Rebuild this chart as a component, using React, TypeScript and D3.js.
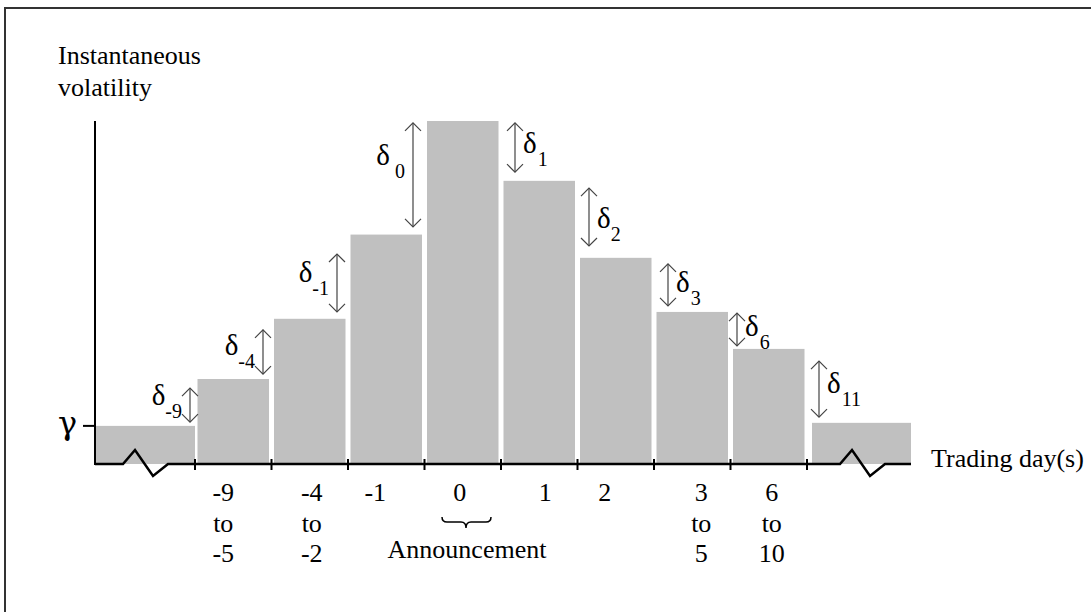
import React, { useEffect, useRef } from "react";
import * as d3 from "d3";

// bar heights, in units of the base level (gamma = 1)
const categories = ["pre", "-9 to -5", "-4 to -2", "-1", "0", "1", "2", "3 to 5", "6 to 10", "post"];
const volatility = [1.0, 2.23, 3.81, 6.02, 9.0, 7.43, 5.41, 3.99, 3.02, 1.08];
const gammaLevel = 1.0;

// x tick labels under the middle bars (one entry per line)
const tickLabels = [
  ["-9", "to", "-5"],
  ["-4", "to", "-2"],
  ["-1"],
  ["0"],
  ["1"],
  ["2"],
  ["3", "to", "5"],
  ["6", "to", "10"],
];

// delta arrows: subscript, start and end level
const deltaNames = ["-9", "-4", "-1", "0", "1", "2", "3", "6", "11"];
const deltaFrom = [1.99, 3.52, 5.51, 8.95, 8.95, 7.24, 5.25, 3.96, 2.7];
const deltaTo = [1.1, 2.36, 3.99, 6.22, 7.66, 5.72, 4.15, 3.1, 1.23];

// hand placement nudges from the original drawing
const labelDx = [-10, 2, -11, -3, 6, -11, 9, 3];
const arrowDx = [-5, -8.5, -11, -11.5, 14, 11.5, 14, 6.5, 12];
const deltaDy = [0, 3, -1, -10, 6, 11, 7, 7, 4];
const subDx = [0, 0, 0, 5, 1, 0, 1, 1, 1];

const FONT = '"Liberation Serif", "Times New Roman", Times, serif';

export default function App() {
  const ref = useRef<SVGSVGElement>(null);

  useEffect(() => {
    const width = 1091;
    const height = 612;
    const axisX = 95;
    const endX = 911;
    const baseY = 464;

    const svg = d3.select(ref.current).attr("width", width).attr("height", height);
    svg.selectAll("*").remove();

    const y = d3.scaleLinear().domain([0, 9]).range([baseY, 121]);
    const xb = d3.scaleLinear().domain([0, 8]).range([195, 807]);

    // frame (top and left edges)
    svg.append("path")
      .attr("d", `M5,${height} L5,8 L${width},8`)
      .attr("fill", "none")
      .attr("stroke", "#333")
      .attr("stroke-width", 2);

    const barX = (i: number) => {
      if (i === 0) return [axisX, xb(0)];
      if (i === categories.length - 1) return [xb(8) + 5, endX];
      return [xb(i - 1) + 2.5, xb(i) - 2.5];
    };

    svg.selectAll("rect.bar")
      .data(volatility)
      .join("rect")
      .attr("class", "bar")
      .attr("x", (d, i) => barX(i)[0])
      .attr("width", (d, i) => barX(i)[1] - barX(i)[0])
      .attr("y", (d) => y(d))
      .attr("height", (d) => baseY - y(d))
      .attr("fill", "#c0c0c0");

    // baseline with the two break marks
    const zig = (x0: number) => [
      [x0 + 28, baseY], [x0 + 40, baseY - 14], [x0 + 58, baseY + 12], [x0 + 73, baseY],
    ];
    const basePts: [number, number][] = [
      [axisX, baseY], ...(zig(axisX) as [number, number][]),
      ...(zig(xb(8) + 5) as [number, number][]), [endX, baseY],
    ];
    svg.append("path")
      .attr("d", d3.line()(basePts))
      .attr("fill", "none")
      .attr("stroke", "#000")
      .attr("stroke-width", 2.5);

    svg.selectAll("line.tick")
      .data(d3.range(9))
      .join("line")
      .attr("class", "tick")
      .attr("x1", (d) => xb(d))
      .attr("x2", (d) => xb(d))
      .attr("y1", baseY - 5)
      .attr("y2", baseY + 6)
      .attr("stroke", "#000")
      .attr("stroke-width", 2);

    // y axis with gamma tick
    svg.append("line")
      .attr("x1", axisX).attr("x2", axisX)
      .attr("y1", y(9)).attr("y2", baseY + 1)
      .attr("stroke", "#000").attr("stroke-width", 2);
    svg.append("line")
      .attr("x1", axisX - 12).attr("x2", axisX)
      .attr("y1", y(gammaLevel)).attr("y2", y(gammaLevel))
      .attr("stroke", "#000").attr("stroke-width", 2);
    svg.append("text")
      .attr("x", 77).attr("y", y(gammaLevel) + 8)
      .attr("text-anchor", "end")
      .attr("font-family", '"DejaVu Serif", serif').attr("font-size", 32)
      .text("\u03b3");

    // axis titles
    const yTitle = svg.append("text").attr("font-family", FONT).attr("font-size", 26);
    yTitle.append("tspan").attr("x", 58).attr("y", 64).text("Instantaneous");
    yTitle.append("tspan").attr("x", 58).attr("y", 96).text("volatility");

    svg.append("text")
      .attr("x", 931).attr("y", 467)
      .attr("font-family", FONT).attr("font-size", 26)
      .text("Trading day(s)");

    // tick labels
    tickLabels.forEach((lines, i) => {
      const cx = (xb(i) + xb(i + 1)) / 2 + labelDx[i];
      svg.append("g")
        .selectAll("text")
        .data(lines)
        .join("text")
        .attr("x", cx)
        .attr("y", (d, j) => 501 + j * 30.5)
        .attr("text-anchor", "middle")
        .attr("font-family", FONT)
        .attr("font-size", 26)
        .text((d) => d);
    });

    // announcement brace
    svg.append("path")
      .attr("d", "M442,517 Q442,522 447,522 L461,522 Q466,522 466,528 Q466,522 471,522 L486,522 Q491,522 491,517")
      .attr("fill", "none")
      .attr("stroke", "#000")
      .attr("stroke-width", 1.5);
    svg.append("text")
      .attr("x", 467).attr("y", 558)
      .attr("text-anchor", "middle")
      .attr("font-family", FONT).attr("font-size", 26)
      .text("Announcement");

    // delta arrows
    const head = 8;
    deltaNames.forEach((name, i) => {
      const ax = xb(i) + arrowDx[i];
      const y1 = y(deltaFrom[i]);
      const y2 = y(deltaTo[i]);
      const g = svg.append("g")
        .attr("fill", "none")
        .attr("stroke", "#444")
        .attr("stroke-width", 1.2);
      g.append("line").attr("x1", ax).attr("x2", ax).attr("y1", y1).attr("y2", y2);
      g.append("path").attr("d", `M${ax - head},${y1 + head} L${ax},${y1} L${ax + head},${y1 + head}`);
      g.append("path").attr("d", `M${ax - head},${y2 - head} L${ax},${y2} L${ax + head},${y2 - head}`);

      const leftSide = i < 4;
      const t = svg.append("text")
        .attr("x", leftSide ? ax - 8 : ax + 8)
        .attr("y", (y1 + y2) / 2 + deltaDy[i])
        .attr("text-anchor", leftSide ? "end" : "start")
        .attr("font-family", FONT)
        .attr("font-size", 29);
      t.append("tspan").text("\u03b4");
      t.append("tspan").attr("dx", subDx[i]).attr("dy", 13).attr("font-size", 20).text(name);
    });
  }, []);

  return (
    <svg ref={ref} style={{ position: "absolute", left: 0, top: 0, background: "#fff" }}></svg>
  );
}
